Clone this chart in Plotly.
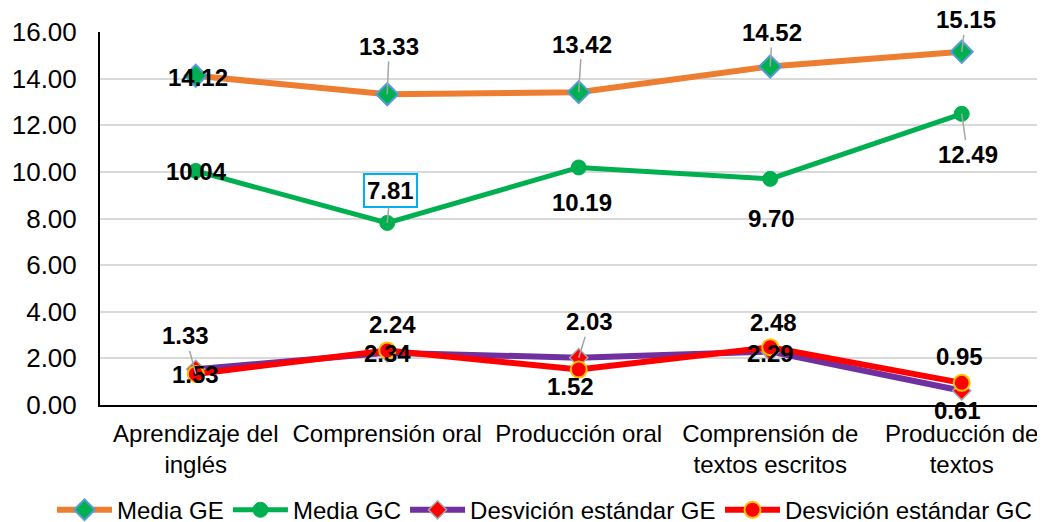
import plotly.graph_objects as go

categories = ["Aprendizaje del<br>inglés", "Comprensión oral", "Producción oral",
              "Comprensión de<br>textos escritos", "Producción de<br>textos"]
media_ge = [14.12, 13.33, 13.42, 14.52, 15.15]
media_gc = [10.04, 7.81, 10.19, 9.70, 12.49]
desv_ge = [1.53, 2.24, 2.03, 2.29, 0.61]
desv_gc = [1.33, 2.34, 1.52, 2.48, 0.95]
y_ticks = [0, 2, 4, 6, 8, 10, 12, 14, 16]

# label placement styles: (dx px, dy px up, leader line)
ge_lbl = [(2, -2, False), (2, 48, True), (3, 48, True), (2, 34, True), (4, 32, True)]
gc_lbl = [(1, -1, False), (3, 32, True), (3, -35, False), (1, -40, False), (6, -41, True)]
dge_lbl = [(0, -5, False), (5, 28, False), (11, 36, True), (0, -2, False), (-4, -20, False)]
dgc_lbl = [(-10, 38, True), (0, -3, False), (-8, -17, False), (3, 25, False), (-2, 26, False)]

# legend placement (paper x of each legend box)
legend_x = [-0.0508, 0.1354, 0.3228, 0.6561]

FONT = "Arial, Liberation Sans, sans-serif"
xs = list(range(len(categories)))

fig = go.Figure()
fig.add_trace(go.Scatter(x=xs, y=media_ge, name="Media GE", mode="lines+markers",
                         legend="legend",
                         line=dict(color="#ED7D31", width=6),
                         marker=dict(symbol="diamond", size=17, color="#00B050",
                                     line=dict(color="#5B9BD5", width=2))))
fig.add_trace(go.Scatter(x=xs, y=media_gc, name="Media GC", mode="lines+markers",
                         legend="legend2",
                         line=dict(color="#00B050", width=5),
                         marker=dict(symbol="circle", size=15, color="#00B050",
                                     line=dict(color="#00B050", width=1))))
fig.add_trace(go.Scatter(x=xs, y=desv_ge, name="Desvición estándar GE", mode="lines+markers",
                         legend="legend3",
                         line=dict(color="#7030A0", width=6),
                         marker=dict(symbol="diamond", size=14, color="#FF0000",
                                     line=dict(color="#A6A6A6", width=1.5))))
fig.add_trace(go.Scatter(x=xs, y=desv_gc, name="Desvición estándar GC", mode="lines+markers",
                         legend="legend4",
                         line=dict(color="#FF0000", width=6),
                         marker=dict(symbol="circle", size=16, color="#FF0000",
                                     line=dict(color="#FFC000", width=2))))

annotations = []
for vals, styles in [(media_ge, ge_lbl), (media_gc, gc_lbl), (desv_ge, dge_lbl), (desv_gc, dgc_lbl)]:
    for i, (v, (dx, dy, arrow)) in enumerate(zip(vals, styles)):
        a = dict(x=i, y=v, xref="x", yref="y", text=f"<b>{v:.2f}</b>",
                 font=dict(family=FONT, size=24, color="black"))
        if arrow:
            a.update(showarrow=True, ax=dx, ay=-dy, axref="pixel", ayref="pixel",
                     arrowhead=0, arrowwidth=1.5, arrowcolor="#A6A6A6", standoff=0,
                     startstandoff=0)
        else:
            a.update(showarrow=False, xshift=dx, yshift=dy)
        annotations.append(a)
# boxed label for 7.81
annotations[6].update(bordercolor="#00B0F0", borderwidth=2, borderpad=2, bgcolor="white")

leg_common = dict(orientation="h", xanchor="left", y=-0.282, yanchor="middle", itemwidth=55,
                  font=dict(family=FONT, size=24, color="black"), bgcolor="rgba(0,0,0,0)")
layout_legends = {}
for k, lx in enumerate(legend_x):
    key = "legend" if k == 0 else f"legend{k + 1}"
    layout_legends[key] = dict(leg_common, x=lx)

# the page body adds an 8px offset; the figure is sized to fit the window exactly
fig.update_layout(
    width=1037, height=514,
    margin=dict(l=92, r=0, t=24, b=117, autoexpand=False),
    paper_bgcolor="white", plot_bgcolor="white",
    font=dict(family=FONT, color="black"),
    annotations=annotations,
    showlegend=True,
    xaxis=dict(range=[-0.5, 4.435], tickvals=xs, ticktext=categories, automargin=False,
               showgrid=False, zeroline=False, showline=True, linecolor="black", linewidth=2,
               tickfont=dict(family=FONT, size=24, color="black"), ticks="",
               ticklabelstandoff=6, fixedrange=True),
    yaxis=dict(range=[0, 16], tickvals=y_ticks, tickformat=".2f", automargin=False,
               showgrid=True, gridcolor="#D9D9D9", gridwidth=1.5, zeroline=False,
               showline=True, linecolor="black", linewidth=2,
               tickfont=dict(family=FONT, size=26, color="black"), ticks="",
               ticklabelstandoff=16, fixedrange=True),
    **layout_legends,
)

fig.write_html("out.html")
